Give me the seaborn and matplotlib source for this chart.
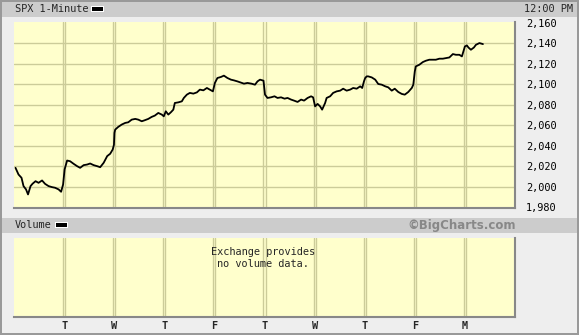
import numpy as np
import pandas as pd
import matplotlib
matplotlib.use("Agg")
import matplotlib.pyplot as plt
import seaborn as sns
from matplotlib.patches import Rectangle
from matplotlib.ticker import FuncFormatter

# time in trading days since the first session open, price of SPX
times = [0.03, 0.09, 0.15, 0.19, 0.24, 0.28, 0.33, 0.37, 0.43, 0.49, 0.56, 0.62, 0.69, 0.76,
         0.82, 0.89, 0.94, 0.98,
         1.01, 1.06, 1.12, 1.19, 1.26, 1.32, 1.39, 1.46, 1.52, 1.59, 1.66, 1.72, 1.79, 1.86,
         1.92, 1.97, 1.995,
         2.005, 2.02, 2.08, 2.15, 2.22, 2.28, 2.35, 2.42, 2.48, 2.55, 2.61, 2.68, 2.75, 2.81,
         2.88, 2.95, 2.99,
         3.03, 3.08, 3.13, 3.18, 3.21, 3.28, 3.35, 3.39, 3.45, 3.51, 3.58, 3.65, 3.71, 3.78,
         3.85, 3.91, 3.97,
         4.01, 4.06, 4.13, 4.19, 4.26, 4.33, 4.39, 4.46, 4.52, 4.59, 4.66, 4.74, 4.81, 4.86,
         4.91, 4.98,
         5.01, 5.06, 5.13, 5.20, 5.26, 5.33, 5.40, 5.46, 5.53, 5.59, 5.66, 5.73, 5.79, 5.86,
         5.93, 5.97,
         6.01, 6.06, 6.11, 6.15, 6.21, 6.24, 6.31, 6.37, 6.44, 6.51, 6.57, 6.64, 6.71, 6.77,
         6.84, 6.91, 6.95, 6.985,
         7.01, 7.04, 7.07, 7.14, 7.21, 7.27, 7.34, 7.41, 7.47, 7.54, 7.60, 7.67, 7.74, 7.80,
         7.87, 7.94, 7.97,
         8.00, 8.02, 8.09, 8.16, 8.22, 8.29, 8.36, 8.42, 8.49, 8.56, 8.62, 8.69, 8.76, 8.82,
         8.89, 8.94,
         9.00, 9.04, 9.07, 9.12, 9.18, 9.22, 9.29, 9.36]

prices = [2018.6, 2012.1, 2008.9, 2000.8, 1997.6, 1992.7, 2000.8, 2003.1, 2005.6, 2004.0,
          2006.3, 2003.0, 2000.8, 1999.8, 1999.2, 1997.6, 1995.3, 2002.4,
          2017.0, 2025.7, 2025.0, 2022.5, 2020.2, 2018.6, 2021.2, 2021.8, 2022.8, 2021.2,
          2020.2, 2019.2, 2023.5, 2030.0, 2032.3, 2036.4, 2041.0,
          2052.6, 2055.8, 2058.4, 2060.7, 2062.3, 2062.9, 2065.5, 2066.2, 2065.5, 2063.9,
          2064.9, 2066.2, 2068.2, 2069.4, 2072.0, 2070.4, 2068.7,
          2073.6, 2070.4, 2072.6, 2075.2, 2081.7, 2082.3, 2083.3, 2086.6, 2089.8, 2091.5,
          2090.8, 2092.0, 2094.7, 2094.0, 2096.3, 2094.7, 2093.0,
          2101.2, 2106.0, 2107.0, 2108.3, 2106.0, 2104.4, 2103.7, 2102.7, 2101.7, 2100.5,
          2101.2, 2100.5, 2099.5, 2102.7, 2104.4, 2103.4,
          2089.8, 2086.6, 2087.2, 2088.2, 2086.6, 2087.2, 2085.9, 2086.6, 2085.0, 2084.0,
          2082.7, 2085.0, 2084.0, 2086.6, 2088.2, 2087.2,
          2078.4, 2080.8, 2078.4, 2075.2, 2081.7, 2086.6, 2088.2, 2091.5, 2093.0, 2093.7,
          2095.6, 2093.7, 2094.7, 2096.3, 2095.6, 2097.9, 2096.3, 2102.7,
          2106.0, 2107.6, 2107.6, 2106.6, 2104.4, 2100.2, 2099.5, 2097.9, 2096.9, 2093.7,
          2095.6, 2092.4, 2090.5, 2089.8, 2092.4, 2096.3, 2099.5,
          2112.4, 2117.3, 2118.9, 2121.5, 2122.8, 2123.8, 2123.8, 2123.8, 2124.8, 2124.8,
          2125.4, 2126.0, 2129.3, 2128.6, 2128.6, 2127.0,
          2136.7, 2137.7, 2135.7, 2133.5, 2135.7, 2138.3, 2140.0, 2139.0]

day_ticks = [1, 2, 3, 4, 5, 6, 7, 8, 9]
day_labels = ["T", "W", "T", "F", "T", "W", "T", "F", "M"]
price_ticks = [1980, 2000, 2020, 2040, 2060, 2080, 2100, 2120, 2140, 2160]

df = pd.DataFrame({"t": times, "price": prices})

W, H = 579, 335
BG = "#EEEEEE"
BAND = "#CCCCCC"
PLOT_BG = "#FFFFCC"
GRID = "#CCCC99"
FS = 7.4

sns.set_style("white")
plt.rcParams["font.family"] = ["DejaVu Sans Mono", "DejaVu Sans"]

fig = plt.figure(figsize=(W / 100, H / 100), dpi=100, facecolor=BG)


def px(x0, y0, x1, y1):
    # pixel box (top-left origin) -> figure fraction rect
    return [x0 / W, 1 - y1 / H, (x1 - x0) / W, (y1 - y0) / H]


def frect(x0, y0, x1, y1, color, **kw):
    l, b, w, h = px(x0, y0, x1, y1)
    fig.add_artist(Rectangle((l, b), w, h, transform=fig.transFigure,
                             facecolor=color, edgecolor="none", **kw))


def day_grid(a):
    # double olive rule at each session open
    for d in day_ticks:
        a.axvline(d - 0.02, color=GRID, linewidth=1.0, zorder=0)
        a.axvline(d + 0.02, color=GRID, linewidth=1.0, zorder=0)


# outer frame and bands
frect(0, 0, W, H, "#999999", zorder=-3)
frect(2, 2, W - 2, H - 2, BG, zorder=-2)
frect(2, 2, W - 2, 17, BAND, zorder=-1)
frect(2, 218, W - 2, 233, BAND, zorder=-1)

# price panel
ax = fig.add_axes(px(14, 22, 515, 208))
ax.set_facecolor(PLOT_BG)
sns.lineplot(data=df, x="t", y="price", ax=ax, color="black", linewidth=1.3)
ax.set_xlim(0, 10.0)
ax.set_ylim(1979.5, 2160.5)
ax.set_xlabel("")
ax.set_ylabel("")
ax.set_xticks([])
day_grid(ax)
for p in price_ticks[1:-1]:
    ax.axhline(p, color=GRID, linewidth=1.0, zorder=0)
ax.yaxis.tick_right()
ax.set_yticks(price_ticks)
ax.yaxis.set_major_formatter(FuncFormatter(lambda v, _: f"{int(v):,}"))
ax.tick_params(axis="y", length=0, pad=8, labelsize=FS, colors="black")
for s in ["top", "left"]:
    ax.spines[s].set_visible(False)
for s in ["bottom", "right"]:
    ax.spines[s].set_color("#888888")
    ax.spines[s].set_linewidth(1.5)

# volume panel
vax = fig.add_axes(px(14, 238, 515, 317))
vax.set_facecolor(PLOT_BG)
vax.set_xlim(0, 10.0)
vax.set_ylim(0, 1)
vax.set_yticks([])
day_grid(vax)
vax.set_xticks(day_ticks)
vax.set_xticklabels(day_labels, fontweight="bold", fontsize=FS)
vax.tick_params(axis="x", length=0, pad=3)
for s in ["top", "left"]:
    vax.spines[s].set_visible(False)
for s in ["bottom", "right"]:
    vax.spines[s].set_color("#888888")
    vax.spines[s].set_linewidth(1.5)
vax.text(0.497, 0.88, "Exchange provides\nno volume data.", transform=vax.transAxes,
         ha="center", va="top", fontsize=FS, linespacing=1.2)

# header texts
fig.text(15 / W, 1 - 9.5 / H, "SPX 1-Minute", ha="left", va="center", fontsize=FS)
frect(91, 6, 104, 12, "white", zorder=2)
frect(92, 7, 103, 11, "black", zorder=3)
fig.text(524 / W, 1 - 9.5 / H, "12:00 PM", ha="left", va="center", fontsize=FS)

fig.text(15 / W, 1 - 225.5 / H, "Volume", ha="left", va="center", fontsize=FS)
frect(55, 222, 68, 228, "white", zorder=2)
frect(56, 223, 67, 227, "black", zorder=3)
fig.text(516 / W, 1 - 225.5 / H, "\u00a9BigCharts.com", ha="right", va="center",
         fontsize=8.5, fontweight="bold", color="#888888", family="DejaVu Sans")

fig.savefig("out.png", dpi=100, facecolor=BG)
